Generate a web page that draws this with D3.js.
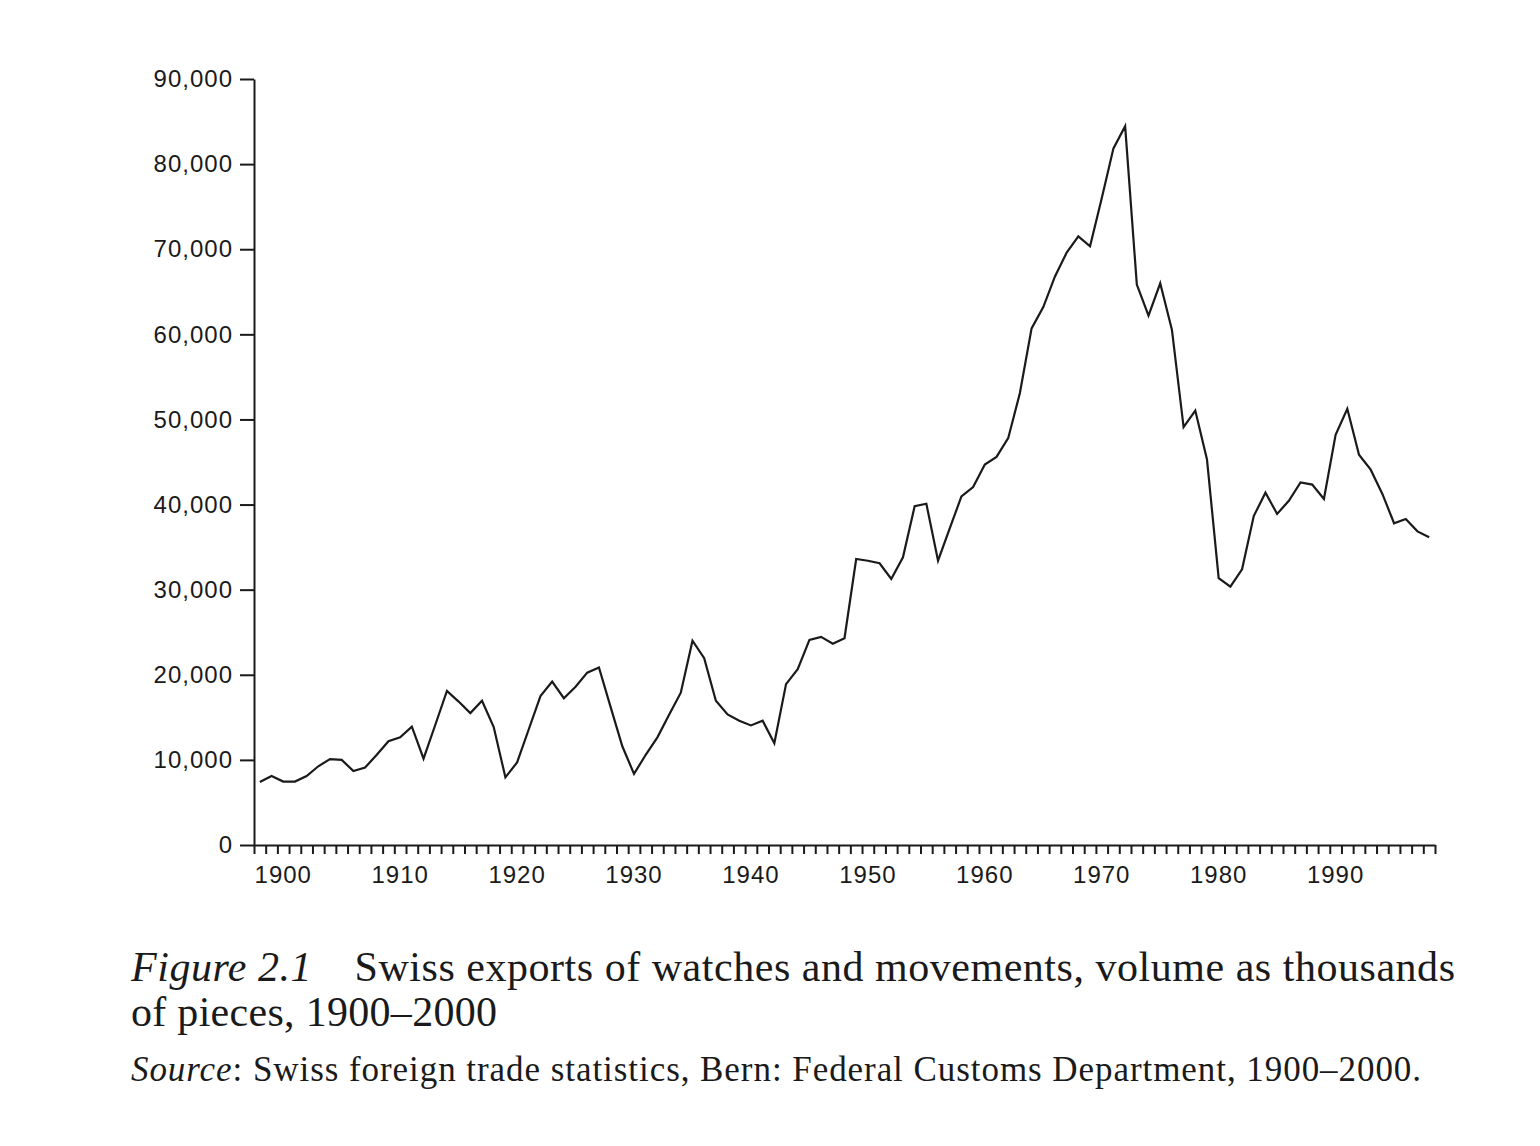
<!DOCTYPE html>
<html>
<head>
<meta charset="utf-8">
<script src="https://cdn.jsdelivr.net/npm/d3@7"></script>
<style>
body { margin: 0; background: #fff; }
</style>
</head>
<body>
<svg></svg>
<script>
var startYear = 1898
var exports = [
    7400, 8100, 7450, 7450, 8100, 9250, 10100, 10000, 8700, 9100,
    10600, 12200, 12650, 13900, 10150, 14100, 18100, 16850, 15500, 16950,
    13850, 7950, 9700, 13600, 17500, 19200, 17250, 18600, 20250, 20850,
    16200, 11600, 8350, 10600, 12650, 15300, 17900, 24000, 21950, 16950,
    15350, 14600, 14050, 14600, 11950, 18900, 20650, 24100, 24450, 23650,
    24300, 33600, 33400, 33100, 31250, 33800, 39800, 40100, 33400, 37200,
    40950, 42050, 44700, 45600, 47800, 53100, 60700, 63200, 66800, 69600,
    71500, 70350, 76000, 81850, 84450, 65850, 62200, 66000, 60550, 49100,
    51050, 45300, 31350, 30350, 32400, 38650, 41400, 38900, 40450, 42600,
    42350, 40650, 48200, 51250, 45850, 44100, 41250, 37800, 38300, 36850,
    36150
]
var yTicks = [0, 10000, 20000, 30000, 40000, 50000, 60000, 70000, 80000, 90000]
var decadeLabels = [1900, 1910, 1920, 1930, 1940, 1950, 1960, 1970, 1980, 1990]

var screen = {width: 1540, height: 1146}
var plot = {left: 254, right: 1435, top: 79, bottom: 845}

var svg = d3.select("svg")
    .attr("width", screen.width)
    .attr("height", screen.height)

// years run from boundary to boundary, points sit mid-year
var endYear = startYear + exports.length
var xScale = d3.scaleLinear()
    .domain([startYear, endYear])
    .range([plot.left, plot.right])

var yScale = d3.scaleLinear()
    .domain([0, 90000])
    .range([plot.bottom, plot.top])

var yAxis = d3.axisLeft(yScale)
    .tickValues(yTicks)
    .tickSize(14)
    .tickSizeOuter(0)
    .tickPadding(7)
    .tickFormat(d3.format(","))

var xAxis = d3.axisBottom(xScale)
    .tickValues(d3.range(startYear, endYear + 1))
    .tickSize(9)
    .tickSizeOuter(0)
    .tickFormat("")

svg.append("g")
    .attr("id", "yAxis")
    .attr("transform", "translate(" + plot.left + ",0)")
    .call(yAxis)

svg.append("g")
    .attr("id", "xAxis")
    .attr("transform", "translate(0," + plot.bottom + ")")
    .call(xAxis)

svg.selectAll(".domain, .tick line")
    .attr("stroke", "#1a1a1a")
    .attr("stroke-width", 2)

svg.selectAll("#yAxis text")
    .attr("font-family", "'Liberation Sans', Arial, sans-serif")
    .attr("font-size", 24)
    .attr("letter-spacing", 1)
    .attr("fill", "#1a1a1a")

svg.append("g")
    .attr("id", "xLabels")
    .selectAll("text")
    .data(decadeLabels)
    .enter()
    .append("text")
    .attr("x", function(year)
    {
        return xScale(year + 0.5);
    })
    .attr("y", 883)
    .attr("text-anchor", "middle")
    .attr("font-family", "'Liberation Sans', Arial, sans-serif")
    .attr("font-size", 24)
    .attr("letter-spacing", 1)
    .attr("fill", "#1a1a1a")
    .text(function(year)
    {
        return year;
    })

var line = d3.line()
    .x(function(d, i)
    {
        return xScale(startYear + i + 0.5);
    })
    .y(function(d)
    {
        return yScale(d);
    })

svg.append("path")
    .datum(exports)
    .attr("d", line)
    .attr("fill", "none")
    .attr("stroke", "#1a1a1a")
    .attr("stroke-width", 2.2)
    .attr("stroke-linejoin", "miter")

// caption
var caption = svg.append("g")
    .attr("font-family", "'Liberation Serif', 'Times New Roman', serif")
    .attr("fill", "#1a1a1a")

var line1 = caption.append("text")
    .attr("x", 131)
    .attr("y", 981)
    .attr("font-size", 42)
    .attr("textLength", 1324)
    .attr("lengthAdjust", "spacing")
line1.append("tspan").attr("font-style", "italic").text("Figure 2.1")
line1.append("tspan").attr("xml:space", "preserve").text("\u2003Swiss exports of watches and movements, volume as thousands")

caption.append("text")
    .attr("x", 131)
    .attr("y", 1026)
    .attr("font-size", 42)
    .attr("textLength", 366)
    .attr("lengthAdjust", "spacing")
    .text("of pieces, 1900\u20132000")

var source = caption.append("text")
    .attr("x", 131)
    .attr("y", 1081)
    .attr("font-size", 35)
    .attr("textLength", 1290)
    .attr("lengthAdjust", "spacing")
source.append("tspan").attr("font-style", "italic").text("Source")
source.append("tspan").text(": Swiss foreign trade statistics, Bern: Federal Customs Department, 1900\u20132000.")
</script>
</body>
</html>
